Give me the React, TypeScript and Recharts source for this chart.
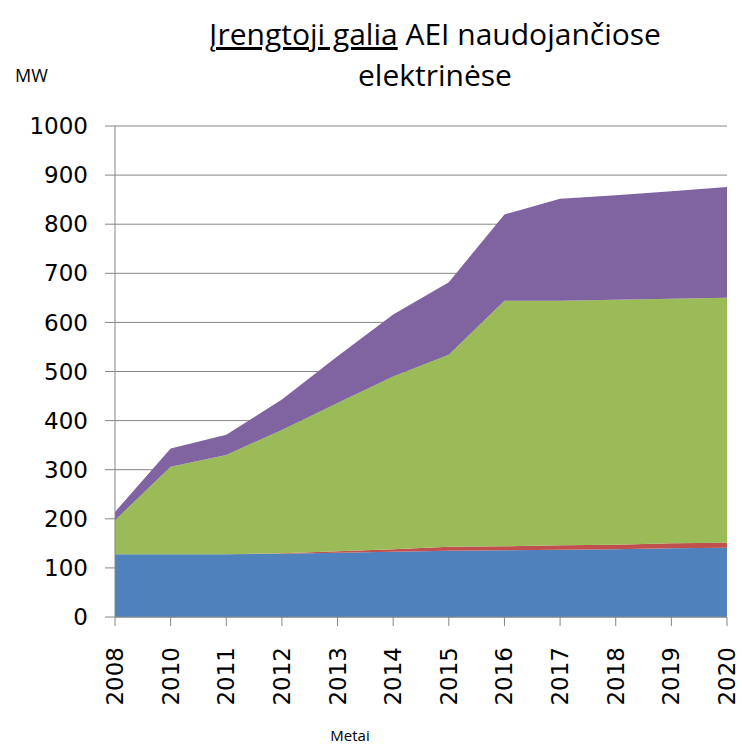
import React from 'react'
import { AreaChart, Area, XAxis, YAxis, CartesianGrid } from 'recharts'

const years = ['2008', '2010', '2011', '2012', '2013', '2014', '2015', '2016', '2017', '2018', '2019', '2020']
const blue = [128, 128, 128, 129, 131, 133, 135, 136, 137, 138, 140, 141]
const red = [0, 0, 0, 1, 3, 5, 8, 8, 9, 9, 10, 10]
const green = [69, 178, 202, 251, 302, 352, 391, 500, 498, 499, 498, 499]
const purple = [17, 37, 41, 62, 95, 126, 148, 176, 208, 213, 219, 226]
const yTicks = [0, 100, 200, 300, 400, 500, 600, 700, 800, 900, 1000]

const data = years.map((y, i) => ({ year: y, a: blue[i], b: red[i], c: green[i], d: purple[i] }))

const GRAY = '#868686'
const TICK_FONT = 'DejaVu Sans, Verdana, sans-serif'

function XTick({ x, y, payload }: { x?: number; y?: number; payload?: { value: string } }) {
  const yy = y ?? 0
  return (
    <g transform={`translate(${x},${yy})`}>
      <text
        transform="rotate(-90)"
        x={-(647 - yy)}
        y={0}
        textAnchor="end"
        dominantBaseline="central"
        fontSize={23}
        fontFamily={TICK_FONT}
        fill="#000"
      >
        {payload?.value}
      </text>
    </g>
  )
}

const titleLine: React.CSSProperties = {
  position: 'absolute',
  left: 140,
  width: 590,
  textAlign: 'center',
  fontFamily: 'Open Sans, sans-serif',
  fontSize: 30,
  lineHeight: '34px',
  height: 34,
  color: '#000',
  whiteSpace: 'nowrap',
}

export default function App() {
  return (
    <div style={{ position: 'absolute', left: 0, top: 0, width: 742, height: 744, background: '#fff' }}>
      <div style={{ ...titleLine, top: 17 }}>
        <span style={{ textDecoration: 'underline' }}>Įrengtoji galia</span> AEI naudojančiose
      </div>
      <div style={{ ...titleLine, top: 58 }}>elektrinėse</div>
      <div style={{ position: 'absolute', left: 15, top: 63, fontFamily: 'Open Sans, sans-serif', fontSize: 18, color: '#000' }}>
        MW
      </div>
      <div
        style={{
          position: 'absolute',
          left: 300,
          width: 100,
          top: 725,
          textAlign: 'center',
          fontFamily: 'Open Sans, sans-serif',
          fontSize: 15,
          color: '#000',
        }}
      >
        Metai
      </div>
      <AreaChart width={742} height={744} data={data} margin={{ top: 126, right: 15, left: 0, bottom: 0 }}>
        <CartesianGrid horizontal vertical={false} stroke={GRAY} strokeWidth={1} />
        <XAxis
          dataKey="year"
          height={127}
          interval={0}
          tick={<XTick />}
          tickSize={9}
          tickLine={{ stroke: GRAY }}
          axisLine={{ stroke: GRAY }}
        />
        <YAxis
          width={115}
          domain={[0, 1000]}
          ticks={yTicks}
          interval={0}
          tickSize={10}
          tickMargin={17}
          tick={{ fontSize: 23, fontFamily: TICK_FONT, fill: '#000' }}
          tickLine={{ stroke: GRAY }}
          axisLine={{ stroke: GRAY }}
        />
        <Area type="linear" dataKey="a" stackId="1" stroke="none" fill="#4F81BD" fillOpacity={1} isAnimationActive={false} />
        <Area type="linear" dataKey="b" stackId="1" stroke="none" fill="#C0504D" fillOpacity={1} isAnimationActive={false} />
        <Area type="linear" dataKey="c" stackId="1" stroke="none" fill="#9BBB59" fillOpacity={1} isAnimationActive={false} />
        <Area type="linear" dataKey="d" stackId="1" stroke="none" fill="#8064A2" fillOpacity={1} isAnimationActive={false} />
      </AreaChart>
    </div>
  )
}
